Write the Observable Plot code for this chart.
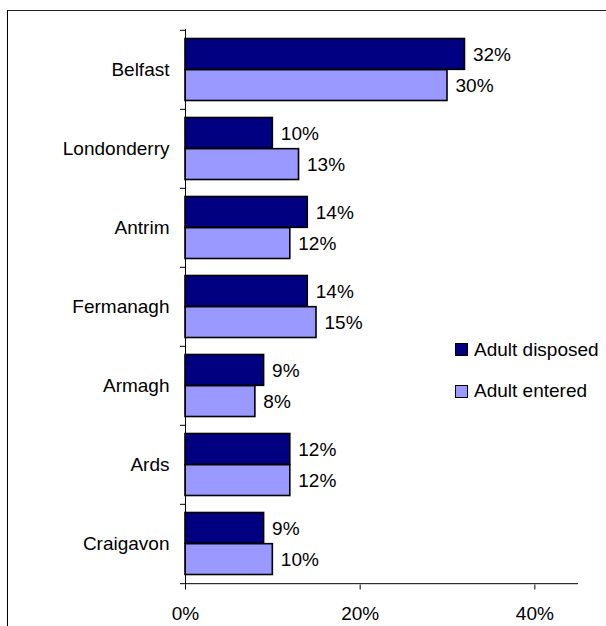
<!DOCTYPE html>
<html>
<head>
<meta charset="utf-8">
<script src="https://cdn.jsdelivr.net/npm/d3@7"></script>
<script src="https://cdn.jsdelivr.net/npm/@observablehq/plot@0.6"></script>
<style>
  html, body { margin: 0; padding: 0; background: #fff; }
  #wrap { position: relative; width: 606px; height: 626px; overflow: hidden; background: #fff;
          font-family: "Liberation Sans", Arial, sans-serif; }
  #frame { position: absolute; left: 7px; top: 10px; right: -4px; bottom: -4px;
           border-left: 1px solid #000; border-top: 1.5px solid #222; }
  #chart { position: absolute; left: 0; top: 0; }
  #legend { position: absolute; left: 455px; top: 0; font-size: 19px; color: #000; }
  .item { position: absolute; left: 0; display: flex; align-items: center; white-space: nowrap; }
  .sw { width: 11px; height: 11px; border: 1.5px solid #000; margin-right: 6px; }
</style>
</head>
<body>
<div id="wrap">
  <div id="frame"></div>
  <div id="chart"></div>
  <div id="legend"></div>
</div>
<script>
const categories = ["Belfast", "Londonderry", "Antrim", "Fermanagh", "Armagh", "Ards", "Craigavon"];
const disposed = [32, 10, 14, 14, 9, 12, 9];
const entered = [30, 13, 12, 15, 8, 12, 10];
const series = ["Adult disposed", "Adult entered"];
const colors = ["#000080", "#9999FF"];
const xTicks = [0, 20, 40];

const W = 606, H = 626, mt = 29, mb = 41.5, ml = 185, mr = 28;
const bw = (H - mt - mb) / categories.length;
const pad = 8.5;
const barH = (bw - 2 * pad) / 2;

const rowsD = categories.map((c, i) => ({cat: c, series: series[0], value: disposed[i]}));
const rowsE = categories.map((c, i) => ({cat: c, series: series[1], value: entered[i]}));

const font = "Liberation Sans, Arial, sans-serif";

const chart = Plot.plot({
  width: W, height: H,
  marginTop: mt, marginBottom: mb, marginLeft: ml, marginRight: mr,
  style: {fontFamily: font, fontSize: "19px", color: "#000", background: "transparent", overflow: "visible"},
  x: {domain: [0, 45]},
  y: {domain: categories, padding: 0},
  color: {domain: series, range: colors},
  marks: [
    Plot.barX(rowsD, {x: "value", y: "cat", fill: "series", stroke: "#000", strokeWidth: 1.6,
      insetTop: pad, insetBottom: bw - pad - barH}),
    Plot.barX(rowsE, {x: "value", y: "cat", fill: "series", stroke: "#000", strokeWidth: 1.6,
      insetTop: pad + barH, insetBottom: pad}),
    Plot.text(rowsD, {x: "value", y: "cat", text: d => d.value + "%", dx: 8, dy: -barH / 2,
      textAnchor: "start", fill: "#000", fontSize: 19}),
    Plot.text(rowsE, {x: "value", y: "cat", text: d => d.value + "%", dx: 8, dy: barH / 2,
      textAnchor: "start", fill: "#000", fontSize: 19}),
    Plot.ruleX([0], {stroke: "#000", strokeWidth: 1}),
    Plot.ruleY([categories[categories.length - 1]], {dy: bw / 2, stroke: "#000", strokeWidth: 1}),
    Plot.axisX({ticks: xTicks, tickFormat: d => d + "%", tickSize: 5, tickPadding: 16,
      fontSize: 19, stroke: "#000", label: null}),
    Plot.axisY({tickSize: 0, tickPadding: 16, fontSize: 19, label: null}),
    Plot.axisY({tickSize: 5, text: null, dy: -bw / 2, stroke: "#000", label: null}),
    Plot.axisY([categories[categories.length - 1]], {tickSize: 5, text: null, dy: bw / 2, stroke: "#000", label: null})
  ]
});
document.getElementById("chart").appendChild(chart);

const legend = document.getElementById("legend");
const rowCenters = [349.7, 391];
series.forEach((s, i) => {
  const item = document.createElement("div");
  item.className = "item";
  item.style.top = (rowCenters[i] - 11) + "px";
  item.style.height = "22px";
  const sw = document.createElement("div");
  sw.className = "sw";
  sw.style.background = colors[i];
  const t = document.createElement("span");
  t.textContent = s;
  item.appendChild(sw);
  item.appendChild(t);
  legend.appendChild(item);
});
</script>
</body>
</html>
